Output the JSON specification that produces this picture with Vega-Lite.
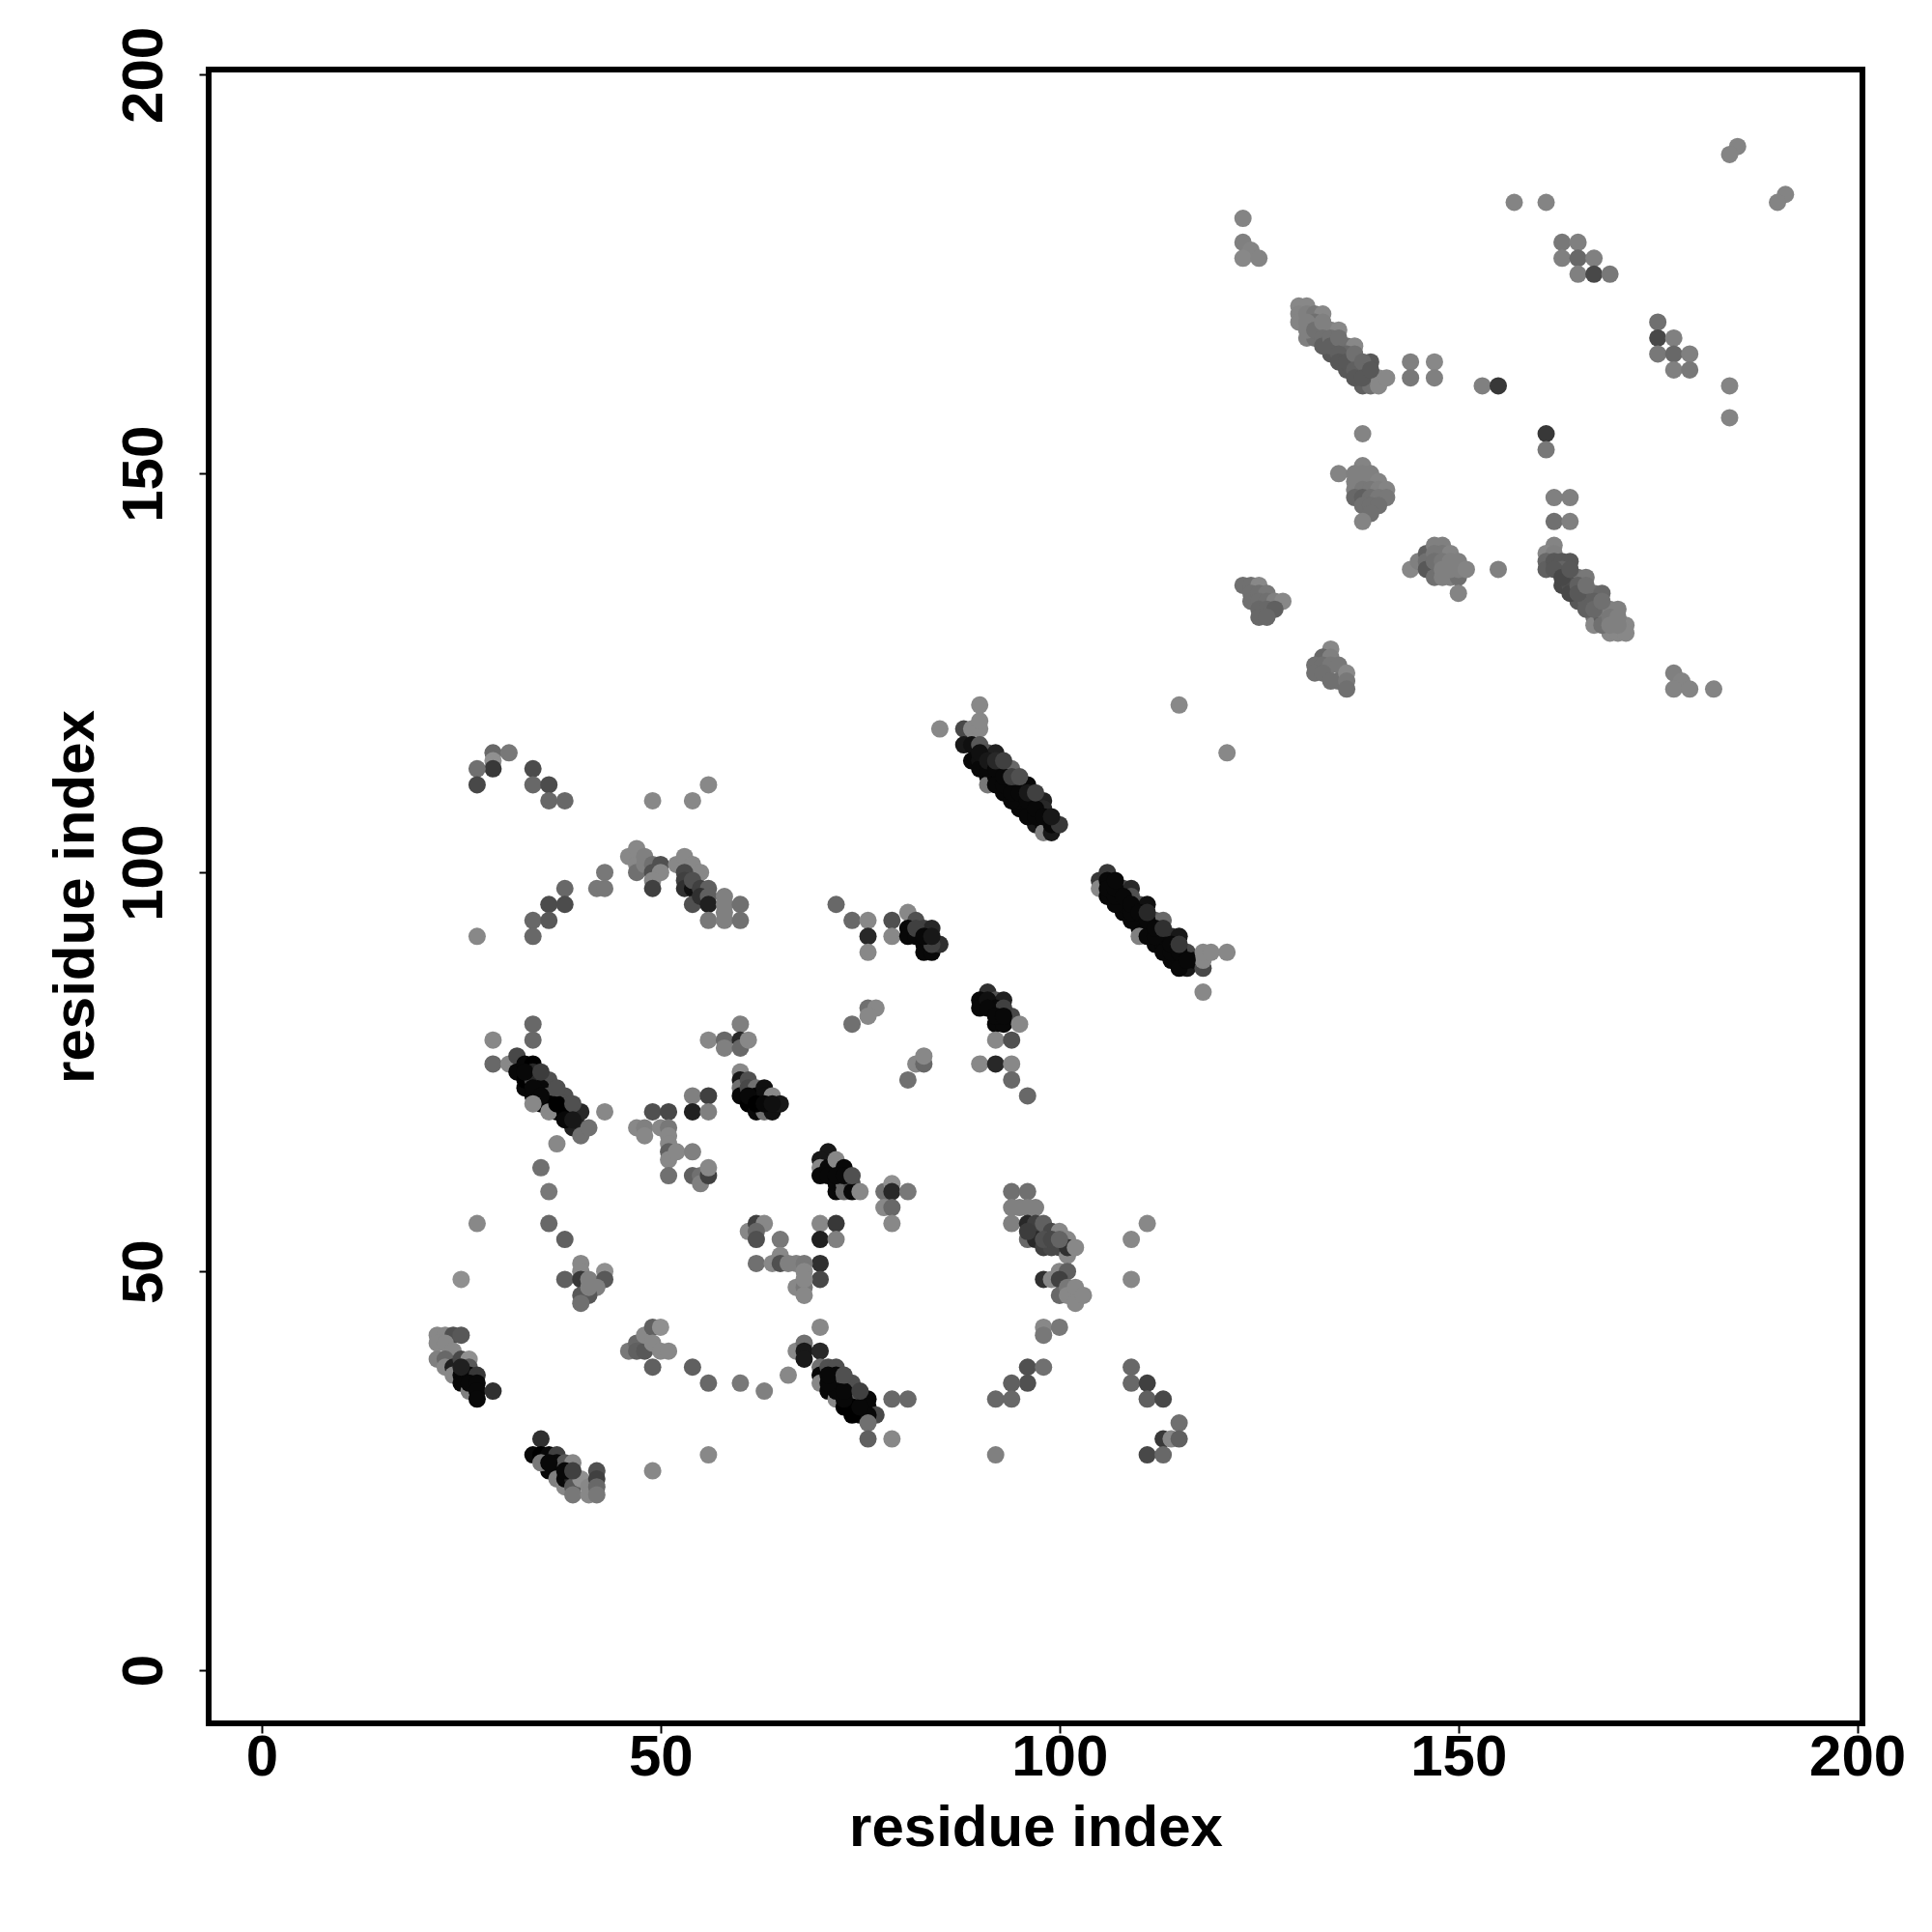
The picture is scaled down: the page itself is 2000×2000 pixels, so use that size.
{"$schema":"https://vega.github.io/schema/vega-lite/v6.json","width":1712,"height":1712,"autosize":{"type":"none"},"padding":{"left":216,"top":72,"right":72,"bottom":216},"background":"white","view":{"stroke":"black","strokeWidth":6,"fill":null},
"data":{"values":[
{"x":29,"y":115,"g":104},{"x":31,"y":115,"g":120},{"x":29,"y":114,"g":144},{"x":29,"y":113,"g":56},{"x":27,"y":113,"g":112},{"x":27,"y":111,"g":72},{"x":34,"y":113,"g":76},{"x":34,"y":111,"g":104},{"x":36,"y":111,"g":76},{"x":36,"y":109,"g":104},{"x":38,"y":109,"g":104},{"x":49,"y":109,"g":136},{"x":54,"y":109,"g":136},{"x":56,"y":111,"g":136},
{"x":43,"y":100,"g":120},{"x":42,"y":98,"g":120},{"x":43,"y":98,"g":120},{"x":38,"y":98,"g":104},{"x":36,"y":96,"g":76},{"x":38,"y":96,"g":76},{"x":34,"y":94,"g":104},{"x":36,"y":94,"g":88},{"x":34,"y":92,"g":104},{"x":27,"y":92,"g":136},
{"x":46,"y":102,"g":136},{"x":47,"y":103,"g":136},{"x":47,"y":101,"g":136},{"x":47,"y":100,"g":112},{"x":48,"y":102,"g":128},{"x":48,"y":101,"g":128},{"x":49,"y":101,"g":112},{"x":50,"y":101,"g":80},{"x":49,"y":100,"g":80},{"x":50,"y":100,"g":136},{"x":49,"y":99,"g":136},{"x":49,"y":98,"g":64},
{"x":52,"y":101,"g":136},{"x":53,"y":102,"g":136},{"x":54,"y":101,"g":136},{"x":55,"y":100,"g":136},{"x":53,"y":100,"g":72},{"x":53,"y":99,"g":64},{"x":53,"y":98,"g":48},{"x":54,"y":98,"g":16},{"x":54,"y":99,"g":80},{"x":55,"y":98,"g":64},{"x":56,"y":98,"g":96},{"x":54,"y":96,"g":80},{"x":55,"y":97,"g":48},{"x":56,"y":97,"g":96},{"x":56,"y":96,"g":32},{"x":56,"y":94,"g":120},{"x":58,"y":97,"g":128},{"x":58,"y":96,"g":128},{"x":58,"y":95,"g":128},{"x":58,"y":94,"g":128},{"x":60,"y":96,"g":112},{"x":60,"y":94,"g":112},
{"x":34,"y":81,"g":104},{"x":34,"y":79,"g":104},{"x":29,"y":79,"g":136},{"x":29,"y":76,"g":104},{"x":31,"y":76,"g":136},{"x":32,"y":77,"g":72},{"x":32,"y":75,"g":8},{"x":33,"y":76,"g":8},{"x":34,"y":76,"g":0},{"x":33,"y":73,"g":8},{"x":33,"y":74,"g":0},{"x":34,"y":74,"g":72},{"x":35,"y":74,"g":80},{"x":36,"y":74,"g":80},{"x":36,"y":73,"g":80},{"x":35,"y":73,"g":8},{"x":34,"y":72,"g":8},{"x":35,"y":71,"g":8},{"x":36,"y":72,"g":80},{"x":37,"y":72,"g":80},{"x":38,"y":72,"g":80},{"x":36,"y":71,"g":0},{"x":37,"y":70,"g":0},{"x":36,"y":70,"g":136},{"x":38,"y":71,"g":80},{"x":37,"y":71,"g":0},{"x":39,"y":70,"g":104},{"x":40,"y":70,"g":40},{"x":43,"y":70,"g":136},{"x":39,"y":68,"g":32},{"x":40,"y":68,"g":32},{"x":40,"y":67,"g":112},{"x":41,"y":68,"g":112},{"x":37,"y":66,"g":136},
{"x":34,"y":75,"g":40},{"x":33,"y":75,"g":8},{"x":35,"y":75,"g":60},{"x":34,"y":73,"g":8},{"x":35,"y":72,"g":8},{"x":37,"y":73,"g":80},{"x":38,"y":70,"g":0},{"x":38,"y":69,"g":8},{"x":39,"y":71,"g":80},{"x":39,"y":69,"g":24},{"x":34,"y":71,"g":136},
{"x":49,"y":70,"g":80},{"x":51,"y":70,"g":72},{"x":54,"y":72,"g":128},{"x":56,"y":72,"g":64},{"x":54,"y":70,"g":32},{"x":56,"y":70,"g":128},{"x":47,"y":68,"g":136},{"x":48,"y":68,"g":128},{"x":48,"y":67,"g":136},{"x":50,"y":68,"g":136},{"x":51,"y":68,"g":120},{"x":51,"y":67,"g":136},{"x":51,"y":66,"g":136},{"x":51,"y":65,"g":96},{"x":51,"y":64,"g":136},{"x":52,"y":65,"g":136},{"x":54,"y":65,"g":128},{"x":51,"y":62,"g":112},{"x":54,"y":62,"g":96},{"x":55,"y":62,"g":112},{"x":55,"y":61,"g":128},{"x":56,"y":62,"g":64},{"x":56,"y":63,"g":136},
{"x":56,"y":79,"g":136},{"x":58,"y":79,"g":104},{"x":58,"y":78,"g":128},{"x":60,"y":81,"g":128},{"x":60,"y":79,"g":40},{"x":60,"y":78,"g":104},{"x":61,"y":79,"g":136},{"x":60,"y":75,"g":136},{"x":60,"y":74,"g":24},{"x":60,"y":73,"g":112},{"x":60,"y":72,"g":8},{"x":61,"y":74,"g":80},{"x":61,"y":73,"g":72},{"x":62,"y":73,"g":112},{"x":61,"y":71,"g":0},{"x":62,"y":72,"g":0},{"x":63,"y":73,"g":16},{"x":63,"y":72,"g":16},{"x":62,"y":70,"g":8},{"x":63,"y":70,"g":112},{"x":64,"y":72,"g":136},{"x":64,"y":70,"g":16},{"x":65,"y":71,"g":24},
{"x":61,"y":72,"g":8},{"x":62,"y":71,"g":0},{"x":63,"y":71,"g":8},{"x":64,"y":71,"g":16},
{"x":72,"y":96,"g":104},{"x":74,"y":94,"g":104},{"x":76,"y":94,"g":136},{"x":76,"y":92,"g":40},{"x":76,"y":90,"g":136},{"x":79,"y":94,"g":80},{"x":79,"y":92,"g":136},{"x":81,"y":95,"g":136},{"x":82,"y":94,"g":80},{"x":81,"y":93,"g":8},{"x":81,"y":92,"g":8},{"x":82,"y":92,"g":8},{"x":83,"y":93,"g":64},{"x":84,"y":93,"g":40},{"x":83,"y":91,"g":8},{"x":83,"y":90,"g":8},{"x":84,"y":90,"g":8},{"x":85,"y":91,"g":48},{"x":84,"y":91,"g":64},
{"x":82,"y":93,"g":64},{"x":83,"y":92,"g":8},{"x":84,"y":92,"g":24},
{"x":76,"y":83,"g":112},{"x":77,"y":83,"g":136},{"x":76,"y":82,"g":136},{"x":74,"y":81,"g":112},{"x":81,"y":74,"g":112},{"x":82,"y":76,"g":136},{"x":83,"y":76,"g":104},{"x":83,"y":77,"g":136},
{"x":85,"y":118,"g":136},{"x":88,"y":118,"g":72},{"x":89,"y":118,"g":136},{"x":90,"y":118,"g":136},{"x":90,"y":119,"g":136},{"x":90,"y":121,"g":136},{"x":88,"y":116,"g":24},{"x":89,"y":116,"g":16},{"x":90,"y":116,"g":88},{"x":89,"y":114,"g":8},{"x":91,"y":115,"g":80},{"x":92,"y":115,"g":32},{"x":90,"y":114,"g":16},{"x":91,"y":112,"g":8},{"x":91,"y":111,"g":120},{"x":92,"y":112,"g":8},{"x":93,"y":113,"g":96},{"x":94,"y":113,"g":104},{"x":93,"y":110,"g":8},{"x":94,"y":111,"g":48},{"x":95,"y":111,"g":40},{"x":96,"y":111,"g":8},{"x":95,"y":108,"g":8},{"x":96,"y":108,"g":8},{"x":95,"y":109,"g":8},{"x":97,"y":109,"g":80},{"x":98,"y":109,"g":32},{"x":98,"y":108,"g":40},{"x":97,"y":106,"g":24},{"x":98,"y":106,"g":8},{"x":98,"y":105,"g":128},{"x":99,"y":105,"g":24},{"x":99,"y":106,"g":8},{"x":100,"y":106,"g":56},
{"x":90,"y":113,"g":8},{"x":92,"y":111,"g":8},{"x":94,"y":109,"g":8},{"x":96,"y":107,"g":8},{"x":91,"y":113,"g":8},{"x":93,"y":111,"g":8},{"x":94,"y":110,"g":8},{"x":97,"y":107,"g":8},{"x":90,"y":115,"g":16},{"x":91,"y":114,"g":24},{"x":92,"y":113,"g":8},{"x":93,"y":112,"g":8},{"x":95,"y":110,"g":8},{"x":96,"y":109,"g":8},{"x":97,"y":108,"g":8},{"x":98,"y":107,"g":8},{"x":92,"y":114,"g":40},{"x":94,"y":112,"g":64},{"x":96,"y":110,"g":24},{"x":99,"y":107,"g":24},{"x":93,"y":114,"g":64},{"x":95,"y":112,"g":80},{"x":97,"y":110,"g":64},
{"x":105,"y":99,"g":56},{"x":105,"y":98,"g":136},{"x":106,"y":100,"g":56},{"x":106,"y":99,"g":8},{"x":106,"y":97,"g":8},{"x":106,"y":98,"g":8},{"x":108,"y":98,"g":72},{"x":109,"y":98,"g":40},{"x":108,"y":95,"g":8},{"x":108,"y":96,"g":8},{"x":109,"y":97,"g":80},{"x":110,"y":96,"g":80},{"x":111,"y":96,"g":16},{"x":110,"y":93,"g":8},{"x":110,"y":94,"g":8},{"x":111,"y":93,"g":8},{"x":110,"y":92,"g":128},{"x":112,"y":94,"g":96},{"x":113,"y":94,"g":104},{"x":112,"y":91,"g":8},{"x":113,"y":92,"g":64},{"x":114,"y":92,"g":48},{"x":115,"y":92,"g":24},{"x":114,"y":89,"g":8},{"x":115,"y":89,"g":8},{"x":113,"y":91,"g":8},{"x":116,"y":90,"g":72},{"x":116,"y":88,"g":24},{"x":117,"y":89,"g":8},{"x":118,"y":88,"g":72},{"x":118,"y":89,"g":136},{"x":118,"y":90,"g":136},{"x":119,"y":90,"g":136},{"x":121,"y":90,"g":136},{"x":118,"y":85,"g":136},{"x":115,"y":121,"g":136},{"x":121,"y":115,"g":136},
{"x":107,"y":96,"g":8},{"x":109,"y":94,"g":8},{"x":111,"y":92,"g":8},{"x":113,"y":90,"g":8},{"x":115,"y":88,"g":8},{"x":107,"y":97,"g":8},{"x":109,"y":95,"g":8},{"x":112,"y":92,"g":8},{"x":114,"y":90,"g":8},{"x":107,"y":98,"g":8},{"x":108,"y":97,"g":8},{"x":109,"y":96,"g":8},{"x":110,"y":95,"g":8},{"x":111,"y":94,"g":8},{"x":112,"y":93,"g":8},{"x":114,"y":91,"g":8},{"x":115,"y":90,"g":8},{"x":116,"y":89,"g":8},{"x":107,"y":99,"g":8},{"x":111,"y":95,"g":40},{"x":113,"y":93,"g":48},{"x":115,"y":91,"g":56},
{"x":91,"y":85,"g":48},{"x":90,"y":84,"g":8},{"x":90,"y":83,"g":8},{"x":92,"y":84,"g":80},{"x":93,"y":84,"g":32},{"x":91,"y":84,"g":16},{"x":92,"y":83,"g":8},{"x":94,"y":82,"g":72},{"x":93,"y":83,"g":64},{"x":92,"y":81,"g":8},{"x":93,"y":81,"g":8},{"x":95,"y":81,"g":136},{"x":92,"y":79,"g":136},{"x":94,"y":79,"g":80},{"x":90,"y":76,"g":136},{"x":92,"y":76,"g":40},{"x":94,"y":76,"g":136},{"x":94,"y":74,"g":104},{"x":96,"y":72,"g":104},{"x":91,"y":83,"g":8},{"x":92,"y":82,"g":8},{"x":93,"y":82,"g":8},
{"x":71,"y":65,"g":24},{"x":70,"y":64,"g":24},{"x":70,"y":63,"g":136},{"x":70,"y":62,"g":8},{"x":71,"y":63,"g":8},{"x":72,"y":64,"g":136},{"x":73,"y":63,"g":8},{"x":71,"y":62,"g":8},{"x":72,"y":60,"g":8},{"x":72,"y":61,"g":8},{"x":73,"y":61,"g":104},{"x":73,"y":60,"g":104},{"x":74,"y":61,"g":80},{"x":74,"y":60,"g":8},{"x":75,"y":60,"g":136},{"x":78,"y":60,"g":112},{"x":79,"y":61,"g":144},{"x":79,"y":60,"g":40},{"x":81,"y":60,"g":120},{"x":78,"y":58,"g":136},{"x":79,"y":58,"g":104},{"x":79,"y":56,"g":136},{"x":72,"y":62,"g":8},{"x":73,"y":62,"g":8},{"x":74,"y":62,"g":80},
{"x":70,"y":56,"g":136},{"x":72,"y":56,"g":56},{"x":70,"y":54,"g":32},{"x":72,"y":54,"g":128},{"x":70,"y":51,"g":48},{"x":70,"y":49,"g":72},
{"x":35,"y":63,"g":112},{"x":36,"y":60,"g":120},{"x":36,"y":56,"g":104},{"x":38,"y":54,"g":96},{"x":27,"y":56,"g":136},{"x":25,"y":49,"g":144},
{"x":40,"y":51,"g":136},{"x":40,"y":50,"g":136},{"x":38,"y":49,"g":96},{"x":40,"y":49,"g":56},{"x":41,"y":49,"g":128},{"x":43,"y":50,"g":144},{"x":43,"y":49,"g":88},{"x":42,"y":48,"g":128},{"x":40,"y":47,"g":88},{"x":41,"y":47,"g":88},{"x":40,"y":46,"g":112},{"x":41,"y":48,"g":128},
{"x":61,"y":55,"g":136},{"x":62,"y":56,"g":64},{"x":63,"y":56,"g":136},{"x":62,"y":55,"g":104},{"x":62,"y":54,"g":80},{"x":65,"y":54,"g":120},{"x":62,"y":51,"g":112},{"x":64,"y":51,"g":136},{"x":65,"y":52,"g":136},{"x":65,"y":51,"g":80},{"x":66,"y":51,"g":128},{"x":67,"y":51,"g":128},{"x":68,"y":51,"g":120},{"x":68,"y":50,"g":136},{"x":67,"y":48,"g":136},{"x":68,"y":48,"g":120},{"x":68,"y":49,"g":136},{"x":68,"y":47,"g":136},
{"x":49,"y":38,"g":96},{"x":54,"y":38,"g":96},{"x":56,"y":36,"g":104},{"x":60,"y":36,"g":120},{"x":63,"y":35,"g":128},{"x":66,"y":37,"g":136},
{"x":46,"y":40,"g":120},{"x":47,"y":41,"g":104},{"x":47,"y":40,"g":96},{"x":48,"y":40,"g":88},{"x":48,"y":42,"g":136},{"x":49,"y":43,"g":96},{"x":50,"y":43,"g":144},{"x":49,"y":41,"g":136},{"x":50,"y":40,"g":136},{"x":51,"y":40,"g":136},
{"x":22,"y":42,"g":136},{"x":23,"y":42,"g":136},{"x":24,"y":42,"g":80},{"x":25,"y":42,"g":88},{"x":22,"y":41,"g":136},{"x":23,"y":41,"g":136},{"x":24,"y":40,"g":136},{"x":22,"y":39,"g":128},{"x":23,"y":39,"g":104},{"x":23,"y":38,"g":136},{"x":24,"y":38,"g":32},{"x":24,"y":37,"g":136},{"x":25,"y":39,"g":72},{"x":26,"y":39,"g":144},{"x":25,"y":37,"g":8},{"x":25,"y":36,"g":8},{"x":26,"y":38,"g":88},{"x":26,"y":37,"g":8},{"x":27,"y":37,"g":56},{"x":26,"y":35,"g":128},{"x":26,"y":36,"g":8},{"x":27,"y":36,"g":8},{"x":27,"y":35,"g":8},{"x":27,"y":34,"g":8},{"x":29,"y":35,"g":48},{"x":25,"y":38,"g":32},
{"x":35,"y":29,"g":48},{"x":34,"y":27,"g":8},{"x":35,"y":27,"g":0},{"x":36,"y":27,"g":8},{"x":37,"y":27,"g":64},{"x":36,"y":25,"g":8},{"x":35,"y":26,"g":120},{"x":37,"y":25,"g":8},{"x":37,"y":26,"g":8},{"x":38,"y":26,"g":88},{"x":39,"y":26,"g":136},{"x":37,"y":24,"g":128},{"x":38,"y":23,"g":136},{"x":38,"y":24,"g":8},{"x":39,"y":24,"g":40},{"x":39,"y":23,"g":88},{"x":39,"y":22,"g":120},{"x":40,"y":24,"g":144},{"x":41,"y":23,"g":136},{"x":41,"y":22,"g":136},{"x":42,"y":25,"g":80},{"x":42,"y":24,"g":64},{"x":42,"y":23,"g":104},{"x":42,"y":22,"g":120},{"x":49,"y":25,"g":136},{"x":56,"y":27,"g":136},{"x":36,"y":26,"g":8},{"x":38,"y":25,"g":8},{"x":39,"y":25,"g":64},
{"x":67,"y":40,"g":136},{"x":68,"y":41,"g":112},{"x":68,"y":40,"g":24},{"x":68,"y":39,"g":24},{"x":70,"y":43,"g":136},{"x":70,"y":40,"g":40},{"x":70,"y":38,"g":112},{"x":70,"y":37,"g":8},{"x":70,"y":36,"g":136},{"x":71,"y":38,"g":80},{"x":72,"y":38,"g":80},{"x":71,"y":35,"g":8},{"x":72,"y":37,"g":8},{"x":72,"y":36,"g":80},{"x":72,"y":34,"g":136},{"x":73,"y":36,"g":80},{"x":74,"y":36,"g":80},{"x":73,"y":33,"g":0},{"x":74,"y":35,"g":80},{"x":74,"y":34,"g":48},{"x":75,"y":34,"g":96},{"x":76,"y":34,"g":8},{"x":75,"y":32,"g":8},{"x":76,"y":33,"g":8},{"x":77,"y":32,"g":72},{"x":76,"y":32,"g":8},{"x":76,"y":31,"g":112},{"x":76,"y":29,"g":96},{"x":79,"y":29,"g":136},{"x":79,"y":34,"g":104},{"x":81,"y":34,"g":104},
{"x":72,"y":35,"g":8},{"x":71,"y":36,"g":8},{"x":74,"y":32,"g":0},{"x":74,"y":33,"g":0},{"x":73,"y":34,"g":8},{"x":73,"y":35,"g":8},{"x":71,"y":37,"g":8},{"x":75,"y":33,"g":8},{"x":75,"y":35,"g":64},{"x":73,"y":37,"g":80},
{"x":94,"y":60,"g":112},{"x":96,"y":60,"g":112},{"x":94,"y":58,"g":128},{"x":95,"y":58,"g":128},{"x":96,"y":58,"g":128},{"x":97,"y":58,"g":128},{"x":94,"y":56,"g":128},{"x":96,"y":56,"g":40},{"x":96,"y":54,"g":104},{"x":97,"y":56,"g":64},{"x":97,"y":55,"g":64},{"x":98,"y":56,"g":96},{"x":97,"y":54,"g":40},{"x":98,"y":53,"g":64},{"x":99,"y":55,"g":72},{"x":99,"y":53,"g":72},{"x":100,"y":55,"g":136},{"x":100,"y":53,"g":72},{"x":101,"y":54,"g":136},{"x":101,"y":52,"g":136},{"x":101,"y":53,"g":48},{"x":102,"y":53,"g":136},{"x":98,"y":54,"g":80},{"x":99,"y":54,"g":72},{"x":100,"y":54,"g":100},{"x":96,"y":55,"g":60},
{"x":98,"y":49,"g":48},{"x":99,"y":49,"g":136},{"x":100,"y":50,"g":136},{"x":101,"y":50,"g":96},{"x":100,"y":49,"g":64},{"x":100,"y":47,"g":104},{"x":101,"y":48,"g":120},{"x":101,"y":47,"g":136},{"x":102,"y":48,"g":136},{"x":102,"y":46,"g":136},{"x":103,"y":47,"g":136},
{"x":98,"y":43,"g":136},{"x":100,"y":43,"g":120},{"x":98,"y":42,"g":120},{"x":96,"y":38,"g":80},{"x":98,"y":38,"g":112},{"x":96,"y":36,"g":80},{"x":94,"y":36,"g":96},{"x":92,"y":34,"g":104},{"x":94,"y":34,"g":104},{"x":92,"y":27,"g":128},
{"x":111,"y":56,"g":136},{"x":109,"y":54,"g":136},{"x":109,"y":49,"g":136},{"x":109,"y":38,"g":104},{"x":109,"y":36,"g":104},{"x":111,"y":36,"g":64},{"x":111,"y":34,"g":96},{"x":113,"y":34,"g":72},{"x":115,"y":31,"g":112},{"x":113,"y":29,"g":56},{"x":114,"y":29,"g":136},{"x":115,"y":29,"g":96},{"x":111,"y":27,"g":72},{"x":113,"y":27,"g":104},
{"x":123,"y":182,"g":132},{"x":123,"y":179,"g":128},{"x":124,"y":178,"g":132},{"x":123,"y":177,"g":136},{"x":125,"y":177,"g":132},{"x":157,"y":184,"g":132},{"x":161,"y":184,"g":132},{"x":185,"y":191,"g":132},{"x":184,"y":190,"g":132},{"x":191,"y":185,"g":132},{"x":190,"y":184,"g":132},
{"x":163,"y":179,"g":120},{"x":165,"y":179,"g":128},{"x":163,"y":177,"g":128},{"x":165,"y":177,"g":104},{"x":167,"y":177,"g":128},{"x":165,"y":175,"g":128},{"x":167,"y":175,"g":72},{"x":169,"y":175,"g":120},
{"x":175,"y":169,"g":112},{"x":175,"y":167,"g":72},{"x":177,"y":167,"g":128},{"x":175,"y":165,"g":120},{"x":177,"y":165,"g":104},{"x":179,"y":165,"g":128},{"x":177,"y":163,"g":128},{"x":179,"y":163,"g":120},{"x":184,"y":161,"g":132},{"x":184,"y":157,"g":132},
{"x":144,"y":164,"g":128},{"x":147,"y":164,"g":136},{"x":144,"y":162,"g":120},{"x":147,"y":162,"g":128},{"x":153,"y":161,"g":128},{"x":155,"y":161,"g":56},
{"x":130,"y":171,"g":136},{"x":131,"y":171,"g":136},{"x":130,"y":170,"g":132},{"x":130,"y":169,"g":132},{"x":131,"y":170,"g":128},{"x":131,"y":167,"g":128},{"x":132,"y":170,"g":120},{"x":133,"y":170,"g":136},{"x":132,"y":169,"g":112},{"x":132,"y":167,"g":112},{"x":133,"y":168,"g":128},{"x":134,"y":168,"g":128},{"x":135,"y":168,"g":136},{"x":134,"y":165,"g":88},{"x":135,"y":166,"g":104},{"x":136,"y":166,"g":112},{"x":137,"y":166,"g":136},{"x":136,"y":163,"g":88},{"x":136,"y":165,"g":104},{"x":137,"y":164,"g":112},{"x":138,"y":163,"g":80},{"x":139,"y":164,"g":88},{"x":138,"y":161,"g":96},{"x":139,"y":162,"g":88},{"x":139,"y":161,"g":112},{"x":140,"y":162,"g":136},{"x":140,"y":161,"g":136},{"x":141,"y":162,"g":136},
{"x":131,"y":169,"g":128},{"x":131,"y":168,"g":128},{"x":132,"y":168,"g":112},{"x":133,"y":169,"g":128},{"x":133,"y":167,"g":112},{"x":133,"y":166,"g":96},{"x":134,"y":167,"g":112},{"x":134,"y":166,"g":96},{"x":135,"y":167,"g":112},{"x":135,"y":165,"g":96},{"x":135,"y":164,"g":88},{"x":136,"y":164,"g":88},{"x":137,"y":165,"g":112},{"x":137,"y":163,"g":96},{"x":137,"y":162,"g":88},{"x":138,"y":164,"g":104},{"x":138,"y":162,"g":88},{"x":139,"y":163,"g":88},
{"x":138,"y":155,"g":132},{"x":161,"y":155,"g":56},{"x":161,"y":153,"g":120},{"x":135,"y":150,"g":132},{"x":138,"y":151,"g":132},{"x":137,"y":150,"g":128},{"x":138,"y":150,"g":128},{"x":139,"y":150,"g":128},{"x":137,"y":149,"g":128},{"x":138,"y":149,"g":128},{"x":139,"y":149,"g":128},{"x":140,"y":149,"g":132},{"x":137,"y":148,"g":128},{"x":138,"y":148,"g":120},{"x":139,"y":148,"g":120},{"x":140,"y":148,"g":128},{"x":141,"y":148,"g":132},{"x":137,"y":147,"g":104},{"x":138,"y":147,"g":96},{"x":139,"y":147,"g":112},{"x":140,"y":147,"g":120},{"x":141,"y":147,"g":120},{"x":138,"y":146,"g":112},{"x":139,"y":146,"g":112},{"x":140,"y":146,"g":112},{"x":139,"y":145,"g":112},{"x":138,"y":144,"g":132},
{"x":144,"y":138,"g":136},{"x":145,"y":139,"g":128},{"x":146,"y":140,"g":96},{"x":147,"y":141,"g":128},{"x":148,"y":141,"g":128},{"x":146,"y":139,"g":112},{"x":146,"y":138,"g":88},{"x":147,"y":140,"g":120},{"x":148,"y":140,"g":120},{"x":149,"y":140,"g":132},{"x":147,"y":139,"g":112},{"x":148,"y":139,"g":120},{"x":149,"y":139,"g":128},{"x":150,"y":139,"g":128},{"x":147,"y":137,"g":112},{"x":148,"y":137,"g":128},{"x":149,"y":137,"g":128},{"x":150,"y":137,"g":112},{"x":148,"y":138,"g":128},{"x":149,"y":138,"g":128},{"x":150,"y":138,"g":128},{"x":151,"y":138,"g":132},{"x":150,"y":135,"g":132},{"x":155,"y":138,"g":128},
{"x":162,"y":147,"g":128},{"x":164,"y":147,"g":128},{"x":162,"y":144,"g":112},{"x":164,"y":144,"g":128},
{"x":162,"y":141,"g":132},{"x":161,"y":140,"g":136},{"x":162,"y":140,"g":128},{"x":161,"y":139,"g":104},{"x":161,"y":138,"g":96},{"x":162,"y":139,"g":88},{"x":163,"y":139,"g":88},{"x":164,"y":139,"g":88},{"x":163,"y":138,"g":100},{"x":163,"y":136,"g":72},{"x":164,"y":137,"g":112},{"x":165,"y":137,"g":112},{"x":166,"y":137,"g":120},{"x":164,"y":136,"g":80},{"x":165,"y":134,"g":88},{"x":166,"y":135,"g":120},{"x":167,"y":135,"g":112},{"x":168,"y":135,"g":104},{"x":166,"y":134,"g":96},{"x":167,"y":132,"g":112},{"x":167,"y":131,"g":136},{"x":168,"y":132,"g":96},{"x":168,"y":133,"g":120},{"x":169,"y":133,"g":128},{"x":170,"y":133,"g":128},{"x":169,"y":130,"g":136},{"x":170,"y":130,"g":136},{"x":171,"y":131,"g":136},{"x":171,"y":130,"g":136},
{"x":162,"y":138,"g":88},{"x":163,"y":137,"g":72},{"x":164,"y":138,"g":88},{"x":164,"y":135,"g":72},{"x":165,"y":136,"g":96},{"x":165,"y":135,"g":88},{"x":166,"y":136,"g":112},{"x":166,"y":133,"g":96},{"x":167,"y":134,"g":96},{"x":167,"y":133,"g":104},{"x":168,"y":134,"g":112},{"x":168,"y":131,"g":112},{"x":169,"y":132,"g":120},{"x":169,"y":131,"g":128},{"x":170,"y":132,"g":128},{"x":170,"y":131,"g":128},
{"x":123,"y":136,"g":112},{"x":124,"y":136,"g":112},{"x":125,"y":136,"g":136},{"x":124,"y":135,"g":112},{"x":124,"y":134,"g":112},{"x":125,"y":135,"g":112},{"x":126,"y":135,"g":120},{"x":125,"y":134,"g":112},{"x":126,"y":134,"g":112},{"x":127,"y":134,"g":128},{"x":128,"y":134,"g":136},{"x":125,"y":133,"g":104},{"x":126,"y":133,"g":104},{"x":127,"y":133,"g":96},{"x":125,"y":132,"g":104},{"x":126,"y":132,"g":104},
{"x":134,"y":128,"g":136},{"x":133,"y":127,"g":104},{"x":134,"y":127,"g":128},{"x":132,"y":126,"g":112},{"x":133,"y":126,"g":112},{"x":134,"y":126,"g":120},{"x":135,"y":126,"g":120},{"x":132,"y":125,"g":112},{"x":133,"y":125,"g":112},{"x":135,"y":124,"g":112},{"x":134,"y":124,"g":112},{"x":136,"y":125,"g":136},{"x":136,"y":124,"g":120},{"x":136,"y":123,"g":112},
{"x":177,"y":125,"g":128},{"x":178,"y":124,"g":132},{"x":177,"y":123,"g":132},{"x":179,"y":123,"g":132},{"x":182,"y":123,"g":132}
]},
"mark":{"type":"point","filled":true,"opacity":1,"size":324,"shape":"circle","clip":false},
"encoding":{
"x":{"field":"x","type":"quantitative","scale":{"domain":[-6.65,200.65],"nice":false,"zero":false},"axis":{"values":[0,50,100,150,200],"title":"residue index","grid":false,"domain":false,"tickColor":"black","tickSize":10,"tickWidth":2,"labelColor":"black","labelFont":"Liberation Sans","labelFontWeight":"bold","labelFontSize":60,"labelPadding":-4,"labelOverlap":false,"labelFlush":false,"labelBound":false,"titleFont":"Liberation Sans","titleFontWeight":"bold","titleFontSize":60,"titleColor":"black","titlePadding":14}},
"y":{"field":"y","type":"quantitative","scale":{"domain":[-6.65,200.65],"nice":false,"zero":false},"axis":{"values":[0,50,100,150,200],"title":"residue index","grid":false,"domain":false,"tickColor":"black","tickSize":10,"tickWidth":2,"labelColor":"black","labelFont":"Liberation Sans","labelFontWeight":"bold","labelFontSize":60,"labelAngle":-90,"labelAlign":"center","labelBaseline":"bottom","labelPadding":26,"labelOverlap":false,"labelFlush":false,"labelBound":false,"titleFont":"Liberation Sans","titleFontWeight":"bold","titleFontSize":60,"titleColor":"black","titlePadding":10}},
"color":{"field":"g","type":"quantitative","scale":{"domain":[0,255],"range":["#000000","#ffffff"],"interpolate":"rgb"},"legend":null},
"order":[{"field":"x","type":"quantitative"},{"field":"y","type":"quantitative"}]
}}
